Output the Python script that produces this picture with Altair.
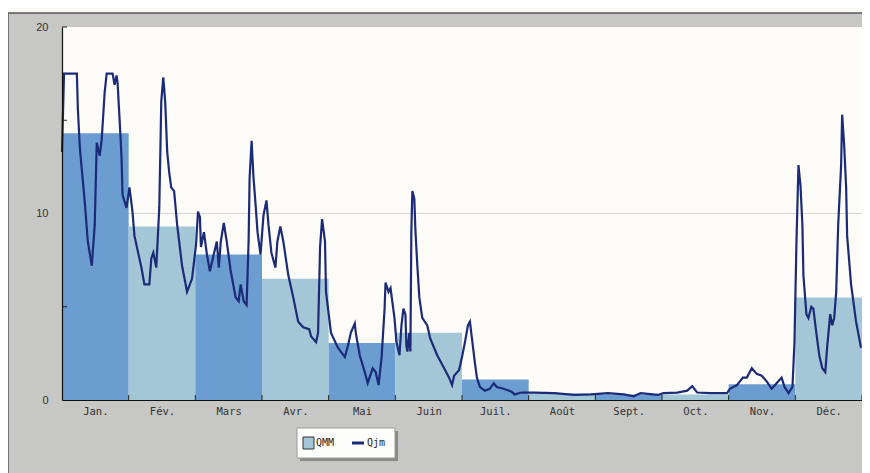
import altair as alt
import pandas as pd

# ---------------- data ----------------
months = ["Jan.", "Fév.", "Mars", "Avr.", "Mai", "Juin", "Juil.", "Août",
          "Sept.", "Oct.", "Nov.", "Déc."]
qmm = [14.3, 9.3, 7.8, 6.5, 3.05, 3.6, 1.1, 0.35, 0.3, 0.3, 0.85, 5.5]

# daily flow (Qjm) : position in months (0 = 1 Jan, 12 = 31 Dec) and value
qjm_t = [0.00, 0.03, 0.223, 0.238, 0.268, 0.342, 0.387, 0.447, 0.491, 0.521,
         0.566, 0.596, 0.640, 0.670, 0.759, 0.789, 0.819, 0.834, 0.863, 0.893,
         0.908, 0.968, 1.012, 1.057, 1.087, 1.191, 1.236, 1.310, 1.340, 1.370,
         1.414, 1.459, 1.474, 1.489, 1.519, 1.548, 1.578, 1.608, 1.638, 1.682,
         1.727, 1.801, 1.876, 1.950, 2.010, 2.040, 2.069, 2.084, 2.129, 2.174,
         2.218, 2.263, 2.322, 2.352, 2.382, 2.427, 2.471, 2.531, 2.605, 2.650,
         2.680, 2.724, 2.769, 2.799, 2.814, 2.844, 2.873, 2.903, 2.933, 2.978,
         3.022, 3.067, 3.097, 3.141, 3.201, 3.231, 3.275, 3.320, 3.394, 3.469,
         3.543, 3.618, 3.707, 3.737, 3.811, 3.841, 3.871, 3.901, 3.945, 3.960,
         4.035, 4.139, 4.243, 4.288, 4.332, 4.392, 4.407, 4.466, 4.541, 4.585,
         4.660, 4.705, 4.749, 4.794, 4.839, 4.853, 4.898, 4.928, 4.987, 5.017,
         5.062, 5.092, 5.121, 5.151, 5.166, 5.181, 5.211, 5.226, 5.240, 5.255,
         5.285, 5.300, 5.330, 5.360, 5.404, 5.479, 5.523, 5.628, 5.732, 5.806,
         5.851, 5.881, 5.955, 6.000, 6.044, 6.089, 6.119, 6.149, 6.193, 6.223,
         6.268, 6.342, 6.417, 6.476, 6.521, 6.625, 6.744, 6.789, 6.893, 7.087,
         7.384, 7.682, 7.935, 8.188, 8.426, 8.575, 8.680, 8.932, 9.022, 9.230,
         9.379, 9.454, 9.528, 9.722, 9.975, 10.019, 10.124, 10.213, 10.273, 10.347,
         10.421, 10.496, 10.570, 10.645, 10.719, 10.794, 10.838, 10.898, 10.957, 10.987,
         11.017, 11.047, 11.077, 11.106, 11.121, 11.166, 11.196, 11.240, 11.270, 11.315,
         11.359, 11.404, 11.449, 11.479, 11.523, 11.553, 11.583, 11.613, 11.643, 11.687,
         11.702, 11.732, 11.762, 11.777, 11.836, 11.911, 11.985]
qjm_v = [13.3, 17.5, 17.5, 15.6, 13.5, 10.6, 8.5, 7.2, 9.4, 13.8,
         13.1, 14.0, 16.5, 17.5, 17.5, 16.9, 17.4, 17.0, 15.1, 13.0,
         11.0, 10.3, 11.4, 10.1, 8.8, 7.1, 6.2, 6.2, 7.6, 7.9,
         7.1, 10.3, 13.1, 16.0, 17.3, 16.0, 13.3, 12.2, 11.4, 11.2,
         9.4, 7.2, 5.8, 6.5, 8.3, 10.1, 9.8, 8.2, 9.0, 7.8,
         6.9, 7.6, 8.5, 7.1, 8.5, 9.5, 8.5, 6.9, 5.5, 5.3,
         6.2, 5.3, 5.1, 8.5, 11.9, 13.9, 11.9, 10.5, 9.0, 7.8,
         9.9, 10.7, 9.4, 7.9, 7.1, 8.5, 9.3, 8.5, 6.7, 5.5,
         4.2, 3.9, 3.8, 3.4, 3.1, 3.6, 8.2, 9.7, 8.5, 5.8,
         3.6, 2.8, 2.3, 2.9, 3.6, 4.1, 3.6, 2.4, 1.5, 0.9,
         1.7, 1.5, 0.8, 2.3, 4.9, 6.3, 5.8, 6.0, 4.4, 3.1,
         2.4, 4.0, 4.9, 4.6, 2.9, 2.6, 3.6, 2.6, 9.0, 11.2,
         10.8, 9.2, 7.2, 5.5, 4.4, 4.0, 3.3, 2.4, 1.7, 1.2,
         0.8, 1.3, 1.6, 2.3, 3.1, 4.0, 4.2, 3.3, 2.0, 1.2,
         0.7, 0.5, 0.6, 0.9, 0.7, 0.6, 0.45, 0.3, 0.4, 0.4,
         0.37, 0.27, 0.3, 0.37, 0.3, 0.2, 0.37, 0.27, 0.37, 0.4,
         0.5, 0.75, 0.4, 0.37, 0.37, 0.6, 0.8, 1.2, 1.2, 1.7,
         1.4, 1.3, 1.0, 0.6, 0.9, 1.2, 0.7, 0.37, 0.7, 3.1,
         8.5, 12.6, 11.5, 9.4, 6.7, 4.6, 4.4, 5.0, 4.9, 3.6,
         2.4, 1.7, 1.5, 2.9, 4.6, 4.0, 4.4, 5.8, 9.4, 12.6,
         15.3, 13.7, 11.4, 8.8, 6.2, 4.2, 2.8]

y_ticks = [0, 10, 20]
y_minor = [5, 15, 20]
legend_labels = ["QMM", "Qjm"]

# ---------------- styling ----------------
W, H = 800, 373
DARK = "#6b9dd1"
LIGHT = "#a4c7d7"
NAVY = "#1b2b78"
GRAY = "#c7c7c5"
PLOT_BG = "#fdfcf8"
PAGE_BG = "#fbfaf5"
MONO = "DejaVu Sans Mono"

bars_df = pd.DataFrame({
    "month": months,
    "start": list(range(12)),
    "end": list(range(1, 13)),
    "qmm": qmm,
    "zero": [0] * 12,
    "shade": ["a", "b"] * 6,
})
line_df = pd.DataFrame({"t": qjm_t, "q": qjm_v})
bound_df = pd.DataFrame({"b": list(range(1, 13))})
minor_df = pd.DataFrame({"v": y_minor})
one = pd.DataFrame({"k": [0]})

xscale = alt.Scale(domain=[0, 12], nice=False, zero=False)
yscale = alt.Scale(domain=[0, 20], nice=False)

label_expr = "[" + ",".join("'" + m + "'" for m in months) + "][floor(datum.value)]"

X_AX = alt.Axis(values=[i + 0.5 for i in range(12)], labelExpr=label_expr,
                ticks=False, grid=False, domainColor="#111", domainWidth=1.2,
                labelFont=MONO, labelFontSize=10.5, labelColor="#333",
                labelPadding=6, title=None, zindex=1)
Y_AX = alt.Axis(values=y_ticks, ticks=False, grid=False, domainColor="#111",
                domainWidth=1.2, labelFont="Liberation Sans", labelFontSize=11,
                labelColor="#333", labelPadding=14, title=None, zindex=1)

panel = alt.Chart(one).mark_rect(fill=GRAY, stroke="#5a5a5a", strokeWidth=1.5).encode(
    x=alt.value(-54), x2=alt.value(W + 40), y=alt.value(-14), y2=alt.value(H + 120))
plotbg = alt.Chart(one).mark_rect(fill=PLOT_BG).encode(
    x=alt.value(0), x2=alt.value(W), y=alt.value(0), y2=alt.value(H))

grid10 = alt.Chart(one).mark_rule(color="#d6d6d2", strokeWidth=1).encode(
    y=alt.Y("g:Q", scale=yscale, axis=Y_AX), x=alt.value(0), x2=alt.value(W)
).transform_calculate(g="10")

bars = alt.Chart(bars_df).mark_rect().encode(
    x=alt.X("start:Q", scale=xscale, axis=X_AX),
    x2="end:Q",
    y=alt.Y("qmm:Q", scale=yscale, axis=Y_AX),
    y2="zero:Q",
    color=alt.Color("shade:N", scale=alt.Scale(domain=["a", "b"], range=[DARK, LIGHT]),
                    legend=None),
)

bticks = alt.Chart(bound_df).mark_rule(color="#222", strokeWidth=1).encode(
    x=alt.X("b:Q", scale=xscale, axis=X_AX), y=alt.value(H), y2=alt.value(H - 5))
yticks = alt.Chart(minor_df).mark_rule(color="#222", strokeWidth=1).encode(
    y=alt.Y("v:Q", scale=yscale, axis=Y_AX), x=alt.value(0), x2=alt.value(5))

line = alt.Chart(line_df).mark_line(color=NAVY, strokeWidth=2.2, strokeJoin="miter").encode(
    x=alt.X("t:Q", scale=xscale, axis=X_AX),
    y=alt.Y("q:Q", scale=yscale, axis=Y_AX),
)

# ---------------- legend ----------------
LX0, LY0 = 235, 401
leg_shadow = alt.Chart(one).mark_rect(fill="#8a8a8a").encode(
    x=alt.value(LX0 + 3), x2=alt.value(LX0 + 101), y=alt.value(LY0 + 3), y2=alt.value(LY0 + 33))
leg_box = alt.Chart(one).mark_rect(fill="#fdfdfb", stroke="#9a9a9a", strokeWidth=1).encode(
    x=alt.value(LX0), x2=alt.value(LX0 + 98), y=alt.value(LY0), y2=alt.value(LY0 + 30))
leg_sq = alt.Chart(one).mark_rect(fill=LIGHT, stroke="#333", strokeWidth=1).encode(
    x=alt.value(LX0 + 6), x2=alt.value(LX0 + 17), y=alt.value(LY0 + 9), y2=alt.value(LY0 + 21))
leg_t1 = alt.Chart(one).mark_text(text=legend_labels[0], font=MONO, fontSize=10, color="#222",
                                  align="left", baseline="middle").encode(
    x=alt.value(LX0 + 19), y=alt.value(LY0 + 15))
leg_ln = alt.Chart(one).mark_rule(color=NAVY, strokeWidth=3).encode(
    x=alt.value(LX0 + 55), x2=alt.value(LX0 + 67), y=alt.value(LY0 + 15))
leg_t2 = alt.Chart(one).mark_text(text=legend_labels[1], font=MONO, fontSize=10, color="#222",
                                  align="left", baseline="middle").encode(
    x=alt.value(LX0 + 70), y=alt.value(LY0 + 15))

chart = alt.layer(
    panel, plotbg, grid10, bars, bticks, yticks, line,
    leg_shadow, leg_box, leg_sq, leg_t1, leg_ln, leg_t2,
).properties(
    width=W, height=H,
    padding={"left": 54, "top": 19, "right": 0, "bottom": 73},
    autosize=alt.AutoSizeParams(type="none"),
    background=PAGE_BG,
).configure_view(stroke=None)

chart.save("out.html", embed_options={"renderer": "svg", "actions": False})
